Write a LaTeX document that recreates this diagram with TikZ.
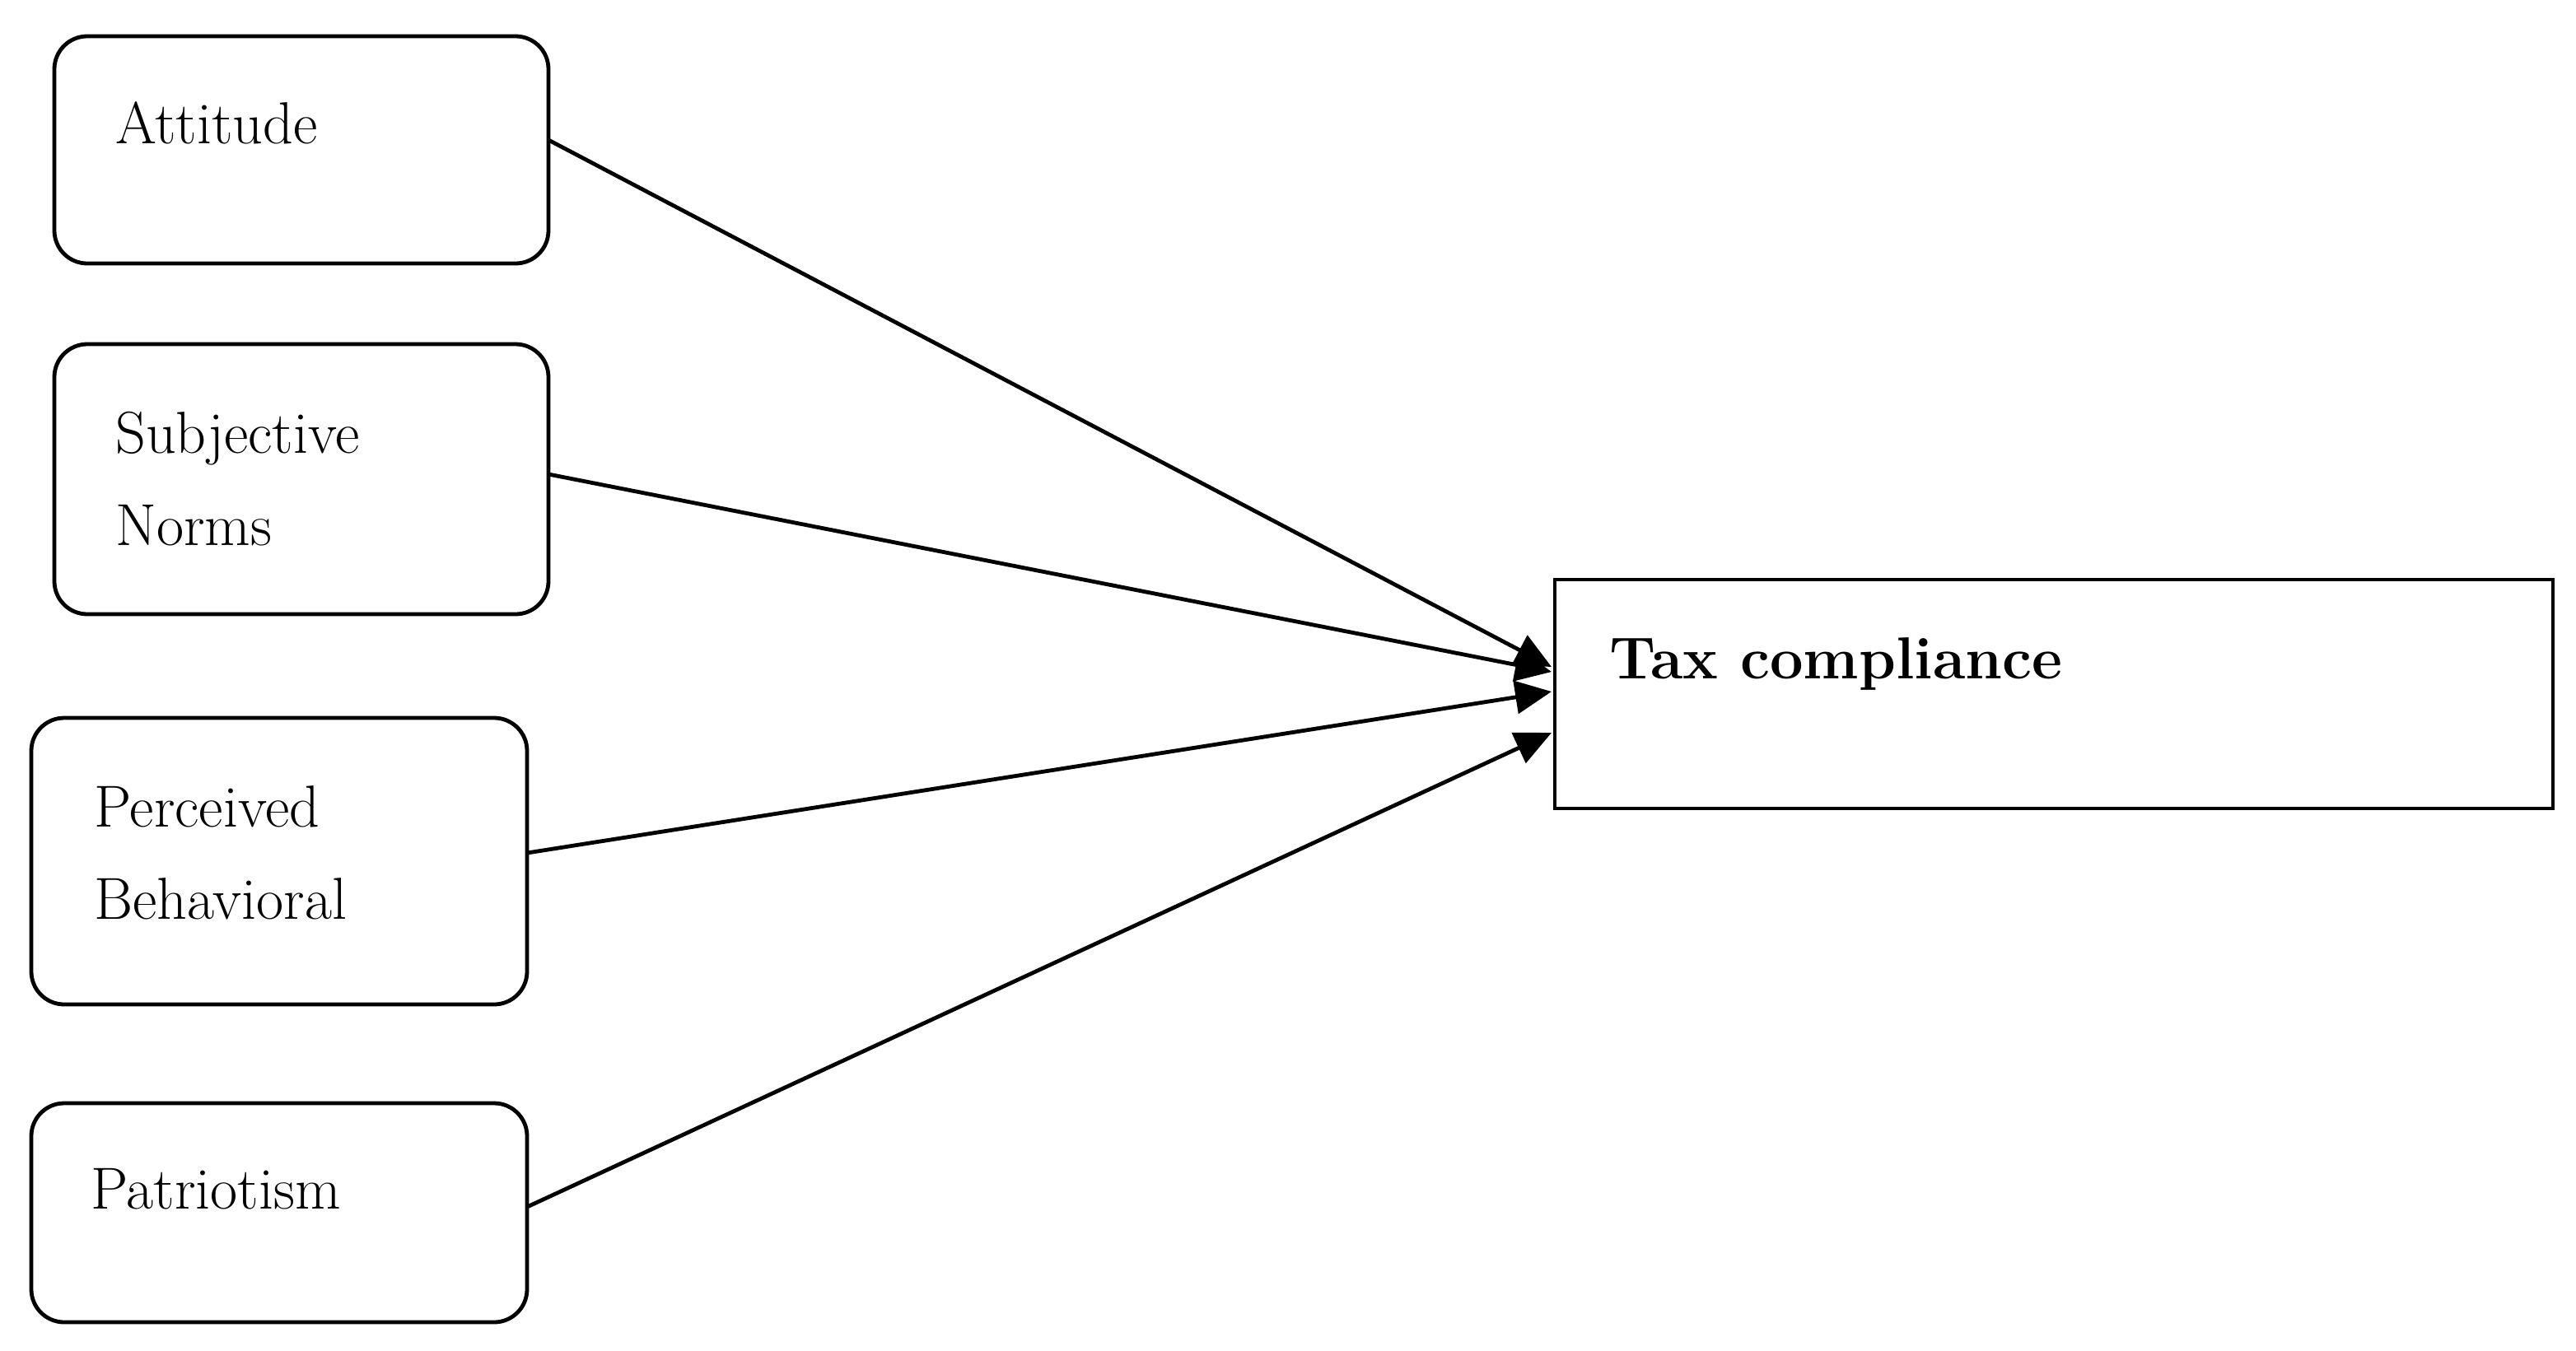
\documentclass[tikz,border=0pt]{standalone}
\usetikzlibrary{arrows.meta}
\begin{document}
\begin{tikzpicture}[x=1pt,y=-1pt,
  rbox/.style={draw,line width=2.4pt,rounded corners=20pt},
  sbox/.style={draw,line width=2.4pt},
  lbl/.style={anchor=base west,inner sep=0pt,font=\fontsize{36}{42}\selectfont},
  conn/.style={line width=2.4pt,-{Triangle[length=22pt,width=20pt]}}]
\useasboundingbox (0,0) rectangle (1564,820);
\draw[rbox] (33,22) rectangle (333,160);
\draw[rbox] (33,209) rectangle (333,373);
\draw[rbox] (19,436) rectangle (320,610);
\draw[rbox] (19,670) rectangle (320,803);
\draw[sbox] (944,352) rectangle (1550,491);
\node[lbl] (a) at (70,87) {Attitude};
\node[lbl] (s1) at (70,275) {Subjective};
\node[lbl] (s2) at (70,331) {Norms};
\node[lbl] (p1) at (57,502) {Perceived};
\node[lbl] (p2) at (57,558) {Behavioral};
\node[lbl] (pt) at (55,734) {Patriotism};
\node[lbl,font=\fontsize{36}{42}\selectfont\bfseries] (t) at (977,412) {Tax compliance};
\coordinate (A) at (333,85);
\coordinate (S) at (333,288);
\coordinate (P) at (320,518);
\coordinate (Q) at (320,733);
\coordinate (T1) at (942,405);
\coordinate (T2) at (942,408);
\coordinate (T3) at (942,420);
\coordinate (T4) at (942,445);
\draw[conn] (A) -- (T1);
\draw[conn] (S) -- (T2);
\draw[conn] (P) -- (T3);
\draw[conn] (Q) -- (T4);
\end{tikzpicture}
\end{document}
